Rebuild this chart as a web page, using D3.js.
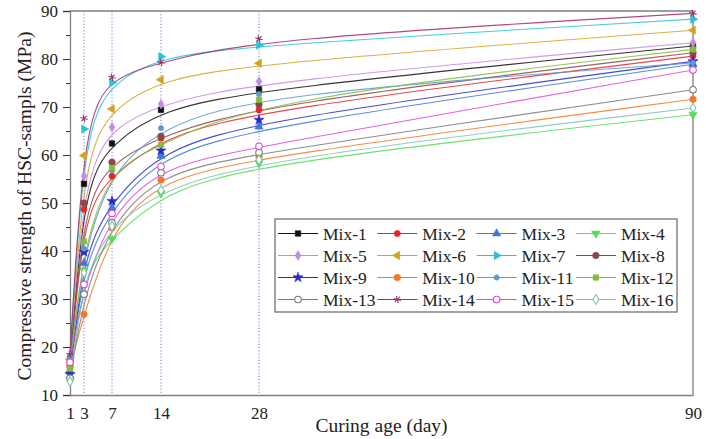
<!DOCTYPE html>
<html>
<head>
<meta charset="utf-8">
<script src="https://cdn.jsdelivr.net/npm/d3@7/dist/d3.min.js"></script>
<style>
  html, body { margin: 0; padding: 0; background: #fff; }
  svg { display: block; font-family: "Liberation Serif", "Times New Roman", serif; }
</style>
</head>
<body>
<svg id="chart" width="706" height="439"></svg>
<script>
// Curing ages (days) at which strength was measured
const days = [1, 3, 7, 14, 28, 90];

// Compressive strength (MPa) of each mix at the curing ages above
const mix1  = [16.5, 54.0, 62.4, 69.4, 73.7, 82.7];
const mix2  = [16.0, 48.7, 55.6, 63.5, 69.4, 80.6];
const mix3  = [15.0, 37.5, 49.0, 59.8, 65.9, 78.9];
const mix4  = [13.2, 36.0, 42.5, 52.0, 58.3, 68.4];
const mix5  = [18.0, 55.6, 65.8, 70.6, 75.3, 83.4];
const mix6  = [17.5, 59.9, 69.6, 75.7, 79.1, 86.0];
const mix7  = [17.8, 65.4, 75.1, 80.5, 82.9, 88.3];
const mix8  = [17.0, 50.0, 58.5, 63.9, 70.5, 81.3];
const mix9  = [14.3, 39.8, 50.4, 60.9, 67.3, 79.5];
const mix10 = [15.8, 26.8, 44.8, 54.8, 59.6, 71.6];
const mix11 = [17.2, 40.5, 56.8, 65.6, 72.7, 79.2];
const mix12 = [15.5, 42.0, 57.3, 62.1, 71.5, 82.0];
const mix13 = [13.5, 31.0, 45.9, 56.3, 60.5, 73.6];
const mix14 = [18.5, 67.6, 76.2, 79.3, 84.2, 89.5];
const mix15 = [16.8, 33.0, 47.8, 57.6, 61.8, 77.7];
const mix16 = [12.8, 35.5, 45.2, 52.6, 59.0, 69.8];

const seriesNames = ["Mix-1","Mix-2","Mix-3","Mix-4","Mix-5","Mix-6","Mix-7","Mix-8",
                     "Mix-9","Mix-10","Mix-11","Mix-12","Mix-13","Mix-14","Mix-15","Mix-16"];
const seriesValues = [mix1, mix2, mix3, mix4, mix5, mix6, mix7, mix8,
                      mix9, mix10, mix11, mix12, mix13, mix14, mix15, mix16];

const xTicks = [1, 3, 7, 14, 28, 90];
const yTicks = [10, 20, 30, 40, 50, 60, 70, 80, 90];
const yMinorTicks = [15, 25, 35, 45, 55, 65, 75, 85];
const guideDays = [3, 7, 14, 28];

// Styling per series: line/marker colour, marker shape, rotation, filled or hollow
const seriesColors = ["#111111","#e8262a","#3f78d0","#55dd55","#c58ae6","#d6a21e","#26c2d8","#8a4848",
                      "#2a2ac8","#f07a2a","#5c9ad2","#86bb3c","#7a7a7a","#a02c6c","#e044d8","#7cc6b2"];
const asterisk = d3.symbolAsterisk || d3.symbolCross;
const seriesShapes = [d3.symbolSquare, d3.symbolCircle, d3.symbolTriangle, d3.symbolTriangle,
                      d3.symbolDiamond, d3.symbolTriangle, d3.symbolTriangle, d3.symbolCircle,
                      d3.symbolStar, d3.symbolCircle, d3.symbolCircle, d3.symbolSquare,
                      d3.symbolCircle, asterisk, d3.symbolCircle, d3.symbolDiamond];
const seriesRotate = [0,0,0,180, 0,-90,90,0, 0,0,0,0, 0,45,0,0];
const seriesHollow = [false,false,false,false, false,false,false,false,
                      false,false,false,false, true,false,true,true];
const seriesSize = [30,30,30,30, 28,30,30,34, 32,34,22,30, 34,40,34,28];

const W = 706, H = 439;
const margin = { left: 70, right: 13, top: 11, bottom: 44 };
const svg = d3.select("#chart");

const x = d3.scaleLinear().domain([1, 90]).range([margin.left, W - margin.right]);
const y = d3.scaleLinear().domain([10, 90]).range([H - margin.bottom, margin.top]);

const axisColor = "#7f7f7f";

// Dotted guides at the intermediate curing ages
svg.append("g").selectAll("line").data(guideDays).join("line")
  .attr("x1", d => x(d)).attr("x2", d => x(d))
  .attr("y1", y(90)).attr("y2", y(10))
  .attr("stroke", "#7a7ad8").attr("stroke-width", 1)
  .attr("stroke-dasharray", "1.2,2");

// Frame: top and right edges
svg.append("path")
  .attr("d", `M${x(1)},${y(90)}H${x(90)}V${y(10)}`)
  .attr("fill", "none").attr("stroke", axisColor).attr("stroke-width", 1.3);

// Y axis with major and minor ticks
const yAxis = d3.axisLeft(y).tickValues(yTicks).tickSize(7).tickPadding(5).tickFormat(d3.format("d"));
const gy = svg.append("g").attr("transform", `translate(${x(1)},0)`).call(yAxis);
gy.select(".domain").attr("stroke", axisColor).attr("stroke-width", 1.3);
gy.selectAll(".tick line").attr("stroke", "#333");
gy.selectAll(".tick text").attr("font-size", 17).attr("fill", "#222")
  .attr("font-family", "'Liberation Serif', 'Times New Roman', serif");
const yMinor = d3.axisLeft(y).tickValues(yMinorTicks).tickSize(4).tickFormat("");
const gym = svg.append("g").attr("transform", `translate(${x(1)},0)`).call(yMinor);
gym.select(".domain").remove();
gym.selectAll(".tick line").attr("stroke", "#333");

// X axis
const xAxis = d3.axisBottom(x).tickValues(xTicks).tickSize(0).tickPadding(12).tickFormat(d3.format("d"));
const gx = svg.append("g").attr("transform", `translate(0,${y(10)})`).call(xAxis);
gx.select(".domain").attr("stroke", axisColor).attr("stroke-width", 1.3);
gx.selectAll(".tick text").attr("font-size", 17).attr("fill", "#222")
  .attr("font-family", "'Liberation Serif', 'Times New Roman', serif");

// Axis titles
svg.append("text")
  .attr("x", (x(1) + x(90)) / 2).attr("y", 432)
  .attr("text-anchor", "middle").attr("font-size", 19.5).attr("fill", "#222")
  .text("Curing age (day)");
svg.append("text")
  .attr("transform", `translate(31,${(y(10) + y(90)) / 2 + 3}) rotate(-90)`)
  .attr("text-anchor", "middle").attr("font-size", 19.5).attr("fill", "#222")
  .text("Compressive strength of HSC-sampls (MPa)");

// Smoothed strength-development curves
const line = d3.line()
  .x((d, i) => x(days[i]))
  .y(d => y(d))
  .curve(d3.curveBasis);

const gLines = svg.append("g");
seriesValues.forEach((vals, s) => {
  gLines.append("path")
    .attr("d", line(vals))
    .attr("fill", "none")
    .attr("stroke", seriesColors[s])
    .attr("stroke-width", 1.1)
    .attr("opacity", 0.85);
});

function marker(g, s, cx, cy) {
  g.append("path")
    .attr("d", d3.symbol().type(seriesShapes[s]).size(seriesSize[s])())
    .attr("transform", `translate(${cx},${cy}) rotate(${seriesRotate[s]})`)
    .attr("fill", seriesHollow[s] ? "#fff" : seriesColors[s])
    .attr("stroke", seriesColors[s])
    .attr("stroke-width", seriesHollow[s] || seriesShapes[s] === asterisk ? 1.1 : 0.6);
}

// Measured points
const gPts = svg.append("g");
seriesValues.forEach((vals, s) => {
  vals.forEach((v, i) => marker(gPts, s, x(days[i]), y(v)));
});

// Legend
const legend = svg.append("g");
const lgX = 275, lgY = 219, lgW = 402, lgH = 93;
legend.append("rect")
  .attr("x", lgX).attr("y", lgY).attr("width", lgW).attr("height", lgH)
  .attr("fill", "#fff").attr("stroke", "#666").attr("stroke-width", 1.2);
seriesNames.forEach((name, s) => {
  const col = s % 4, row = Math.floor(s / 4);
  const x0 = lgX + 3 + col * 99.3;
  const cy = lgY + 14.5 + row * 22;
  legend.append("line")
    .attr("x1", x0).attr("x2", x0 + 40).attr("y1", cy).attr("y2", cy)
    .attr("stroke", seriesColors[s]).attr("stroke-width", 1.1);
  marker(legend, s, x0 + 20, cy);
  legend.append("text")
    .attr("x", x0 + 45).attr("y", cy + 6)
    .attr("font-size", 17.5).attr("fill", "#222")
    .text(name);
});
</script>
</body>
</html>
